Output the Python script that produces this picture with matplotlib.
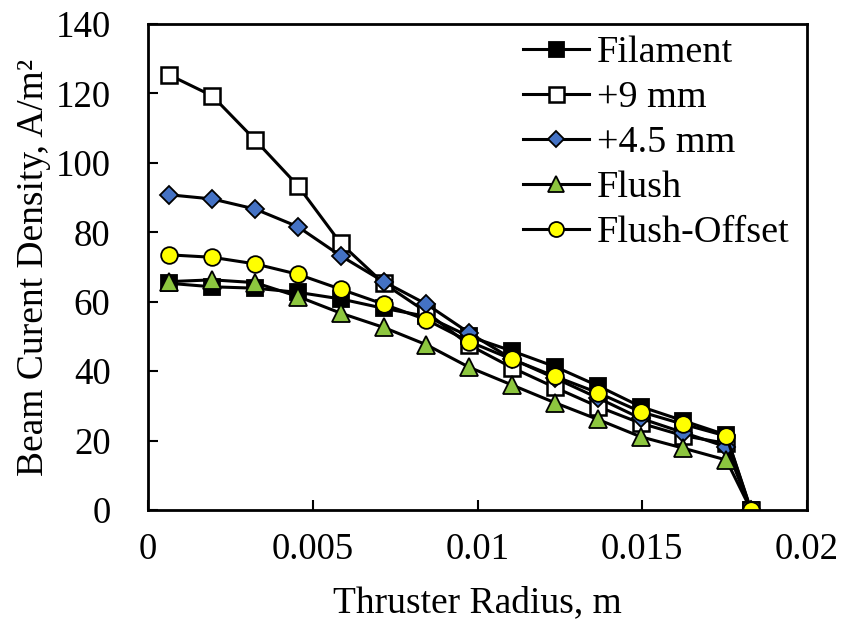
import matplotlib
matplotlib.use("Agg")
import matplotlib.pyplot as plt

plt.rcParams['font.family'] = ['Liberation Serif', 'DejaVu Serif']

radius = [0.00065, 0.00195, 0.00325, 0.00455, 0.00585, 0.00715, 0.00845,
          0.00975, 0.01105, 0.01235, 0.01365, 0.01495, 0.01625, 0.01755, 0.0183]

filament = [65.3, 64.3, 63.9, 62.7, 60.8, 58.1, 55.8, 50.0, 45.8, 41.3, 35.8, 29.8, 25.7, 21.6, 0]
plus9 = [125.3, 119.3, 106.6, 93.4, 76.8, 65.3, 57.0, 47.5, 41.0, 35.3, 29.8, 25.0, 21.4, 19.2, 0]
plus45 = [90.8, 89.6, 86.7, 81.6, 73.2, 65.8, 59.3, 51.0, 43.5, 38.0, 32.3, 26.4, 22.3, 18.2, 0]
flush = [65.8, 66.3, 65.5, 61.5, 56.7, 52.6, 47.6, 41.1, 36.0, 30.9, 26.1, 21.1, 17.8, 14.4, 0]
flush_offset = [73.5, 72.8, 70.9, 67.9, 63.6, 59.3, 54.8, 48.5, 43.4, 38.5, 33.8, 28.3, 24.7, 21.3, 0]

labels = ["Filament", "+9 mm", "+4.5 mm", "Flush", "Flush-Offset"]
xticks = [0, 0.005, 0.01, 0.015, 0.02]
xticklabels = ["0", "0.005", "0.01", "0.015", "0.02"]
yticks = [0, 20, 40, 60, 80, 100, 120, 140]

fig = plt.figure(figsize=(8.43, 6.29), dpi=100)
ax = fig.add_axes([0.1756, 0.1892, 0.7817, 0.7726])

lw = 2.2
mew = 1.3
ax.plot(radius, filament, color='black', lw=lw, marker='s', ms=12,
        mfc='black', mec='black', mew=mew, label=labels[0])
ax.plot(radius, plus9, color='black', lw=lw, marker='s', ms=12,
        mfc='white', mec='black', mew=mew * 1.4, label=labels[1])
ax.plot(radius, plus45, color='black', lw=lw, marker='D', ms=9.5,
        mfc='#4472C4', mec='black', mew=mew, label=labels[2])
ax.plot(radius, flush, color='black', lw=lw, marker='^', ms=12.5,
        mfc='#8DC63F', mec='black', mew=mew, label=labels[3])
ax.plot(radius, flush_offset, color='black', lw=lw, marker='o', ms=12,
        mfc='#FFFF00', mec='black', mew=mew, label=labels[4])

ax.set_xlim(0, 0.02)
ax.set_ylim(0, 140)
ax.set_xticks(xticks)
ax.set_xticklabels(xticklabels)
ax.set_yticks(yticks)
ax.tick_params(axis='both', direction='in', length=7, width=1.5,
               labelsize=26.5)
ax.tick_params(axis='y', pad=27)
ax.tick_params(axis='x', pad=16)
for s in ax.spines.values():
    s.set_linewidth(2)
ax.set_xlabel("Thruster Radius, m", fontsize=27, labelpad=14)
ax.set_ylabel("Beam Curent Density, A/m\u00b2", fontsize=27, labelpad=3)

leg = ax.legend(loc='upper right', bbox_to_anchor=(1.0, 1.012), frameon=False,
                fontsize=27.5, handlelength=1.75, handletextpad=0.2,
                labelspacing=0.27, borderaxespad=0.05, markerscale=0.9)

fig.savefig("out.png", dpi=100)
